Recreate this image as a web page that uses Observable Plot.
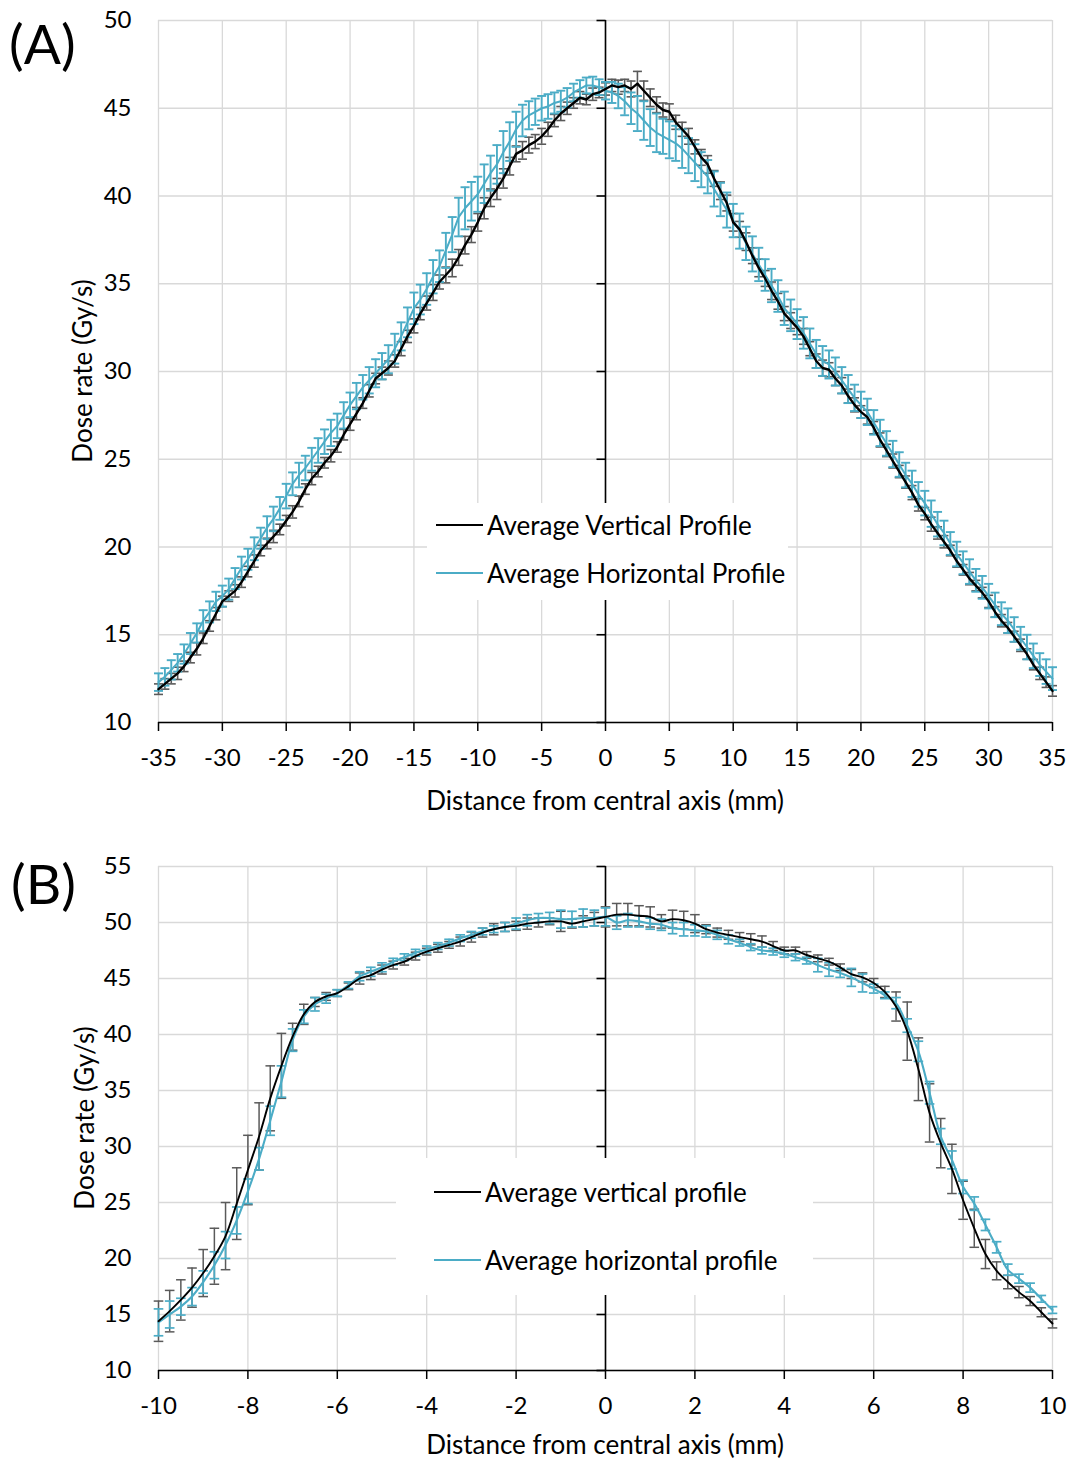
<!DOCTYPE html>
<html>
<head>
<meta charset="utf-8">
<script src="https://cdn.jsdelivr.net/npm/d3@7"></script>
<script src="https://cdn.jsdelivr.net/npm/@observablehq/plot@0.6"></script>
<style>
  body { margin: 0; background: #fff; font-family: Lato, "Open Sans", sans-serif; color: #000; }
  #fig { position: relative; width: 1071px; height: 1461px; }
  .panel { position: absolute; left: 0; width: 1071px; }
  .tag { position: absolute; font-size: 55px; line-height: 1; }
  .xtitle, .ytitle { position: absolute; white-space: nowrap; font-size: 26px; line-height: 1.1; }
  .xtitle { transform: translate(-50%, -50%); }
  .ytitle { transform: translate(-50%, -50%) rotate(-90deg); }
  .legend { position: absolute; background: #fff; }
  .key { position: absolute; display: flex; align-items: center; font-size: 26px; white-space: nowrap; line-height: 1; transform: translateY(-50%); }
  .swatch { display: inline-block; width: 47px; height: 0; border-top: 2px solid; margin-right: 4px; }
</style>
</head>
<body>
<div id="fig">
  <div class="panel" id="panelA" style="top:0"></div>
  <div class="panel" id="panelB" style="top:830px"></div>

  <div class="tag" style="left:9px; top:16px">(A)</div>
  <div class="tag" style="left:11px; top:856px">(B)</div>

  <div class="xtitle" style="left:605px; top:800px">Distance from central axis (mm)</div>
  <div class="ytitle" style="left:82px; top:371px">Dose rate (Gy/s)</div>
  <div class="xtitle" style="left:605px; top:1444px">Distance from central axis (mm)</div>
  <div class="ytitle" style="left:84px; top:1118px">Dose rate (Gy/s)</div>

  <div class="legend" style="left:427px; top:503px; width:361px; height:97px"></div>
  <div class="key" style="left:436px; top:525px"><span class="swatch" style="border-color:#000"></span>Average Vertical Profile</div>
  <div class="key" style="left:436px; top:573px"><span class="swatch" style="border-color:#4bacc6"></span>Average Horizontal Profile</div>

  <div class="legend" style="left:396px; top:1158px; width:417px; height:137px"></div>
  <div class="key" style="left:434px; top:1192px"><span class="swatch" style="border-color:#000"></span>Average vertical profile</div>
  <div class="key" style="left:434px; top:1260px"><span class="swatch" style="border-color:#4bacc6"></span>Average horizontal profile</div>
</div>

<script>
// ---- Panel A: profiles across the full field, sampled every 0.5 mm from -35 to 35 mm ----
const stepA = 0.5;
const xStartA = -35;
const vertA = [
  11.9, 12.2, 12.5, 12.8, 13.2, 13.7, 14.2, 14.8, 15.5, 16.2,
  16.9, 17.2, 17.5, 18.0, 18.6, 19.2, 19.8, 20.2, 20.6, 21.0,
  21.5, 22.0, 22.6, 23.3, 23.9, 24.3, 24.8, 25.2, 25.7, 26.4,
  27.0, 27.6, 28.2, 28.9, 29.6, 29.9, 30.2, 30.6, 31.3, 32.0,
  32.6, 33.3, 33.9, 34.5, 35.1, 35.5, 35.9, 36.5, 37.2, 37.8,
  38.5, 39.3, 39.9, 40.4, 41.0, 41.7, 42.4, 42.6, 42.9, 43.1,
  43.4, 43.8, 44.3, 44.7, 45.0, 45.3, 45.6, 45.5, 45.8, 45.9,
  46.1, 46.3, 46.2, 46.3, 46.1, 46.4, 46.0, 45.6, 45.2, 44.9,
  44.8, 44.2, 43.8, 43.4, 42.8, 42.2, 41.8, 41.0, 40.3, 39.6,
  38.5, 38.1, 37.4, 36.6, 35.9, 35.3, 34.6, 34.0, 33.3, 32.9,
  32.5, 32.0, 31.3, 30.6, 30.2, 30.1, 29.6, 29.2, 28.6, 28.1,
  27.7, 27.4, 26.8, 26.1, 25.5, 24.9, 24.3, 23.7, 23.1, 22.4,
  21.9, 21.3, 20.8, 20.3, 19.8, 19.2, 18.7, 18.2, 17.8, 17.4,
  16.9, 16.3, 15.8, 15.4, 14.9, 14.4, 13.9, 13.3, 12.8, 12.3,
  11.8
];
const horA = [
  12.3, 12.6, 13.0, 13.4, 13.9, 14.5, 15.1, 15.8, 16.3, 16.9,
  17.2, 17.6, 18.2, 18.8, 19.3, 19.9, 20.5, 21.1, 21.6, 22.2,
  22.9, 23.6, 24.1, 24.5, 25.0, 25.5, 26.0, 26.5, 26.9, 27.5,
  28.1, 28.6, 29.1, 29.5, 29.9, 30.3, 30.7, 31.3, 32.0, 32.8,
  33.6, 34.1, 34.7, 35.4, 36.0, 36.9, 37.8, 38.8, 39.3, 39.7,
  40.1, 40.7, 41.3, 41.8, 42.5, 43.1, 43.8, 44.3, 44.6, 44.8,
  45.0, 45.1, 45.3, 45.4, 45.6, 45.9, 46.1, 46.3, 46.3, 46.2,
  46.0, 45.9, 45.7, 45.4, 45.0, 44.7, 44.3, 43.9, 43.6, 43.4,
  43.2, 43.0, 42.7, 42.3, 41.9, 41.5, 41.1, 40.4, 39.8, 39.2,
  38.6, 38.0, 37.3, 36.7, 36.1, 35.5, 34.9, 34.3, 33.6, 33.2,
  32.7, 32.2, 31.6, 31.0, 30.6, 30.4, 30.0, 29.5, 29.0, 28.5,
  28.1, 27.7, 27.1, 26.5, 25.9, 25.3, 24.7, 24.1, 23.6, 23.0,
  22.5, 21.9, 21.3, 20.8, 20.2, 19.6, 19.1, 18.6, 18.1, 17.7,
  17.2, 16.7, 16.2, 15.8, 15.3, 14.8, 14.3, 13.8, 13.3, 12.9,
  12.5
];
// half-length of each error bar (Gy/s)
const errVertA = [
  0.3, 0.3, 0.3, 0.35, 0.3, 0.3, 0.35, 0.3, 0.3, 0.35,
  0.3, 0.3, 0.35, 0.3, 0.3, 0.35, 0.3, 0.3, 0.35, 0.3,
  0.3, 0.35, 0.3, 0.3, 0.35, 0.3, 0.3, 0.35, 0.3, 0.3,
  0.35, 0.35, 0.3, 0.35, 0.3, 0.35, 0.4, 0.35, 0.4, 0.35,
  0.4, 0.35, 0.4, 0.45, 0.4, 0.45, 0.5, 0.45, 0.5, 0.45,
  0.5, 0.6, 0.5, 0.6, 0.55, 0.5, 0.45, 0.5, 0.45, 0.4,
  0.45, 0.4, 0.35, 0.4, 0.35, 0.3, 0.35, 0.3, 0.35, 0.3,
  0.35, 0.35, 0.4, 0.35, 0.45, 0.7, 0.55, 0.5, 0.45, 0.4,
  0.45, 0.4, 0.4, 0.45, 0.4, 0.45, 0.5, 0.45, 0.5, 0.45,
  0.5, 0.45, 0.5, 0.45, 0.5, 0.45, 0.5, 0.45, 0.4, 0.45,
  0.4, 0.45, 0.4, 0.4, 0.45, 0.4, 0.4, 0.45, 0.4, 0.4,
  0.35, 0.4, 0.35, 0.4, 0.35, 0.4, 0.35, 0.35, 0.4, 0.35,
  0.35, 0.4, 0.35, 0.35, 0.3, 0.35, 0.3, 0.35, 0.3, 0.3,
  0.35, 0.3, 0.35, 0.3, 0.3, 0.35, 0.3, 0.3, 0.35, 0.3,
  0.3
];
const errHorA = [
  0.5, 0.5, 0.55, 0.5, 0.55, 0.6, 0.55, 0.6, 0.6, 0.55,
  0.6, 0.6, 0.6, 0.65, 0.6, 0.65, 0.6, 0.65, 0.7, 0.65,
  0.7, 0.65, 0.7, 0.7, 0.65, 0.7, 0.7, 0.75, 0.7, 0.75,
  0.7, 0.75, 0.7, 0.75, 0.8, 0.75, 0.8, 0.85, 0.8, 0.85,
  0.9, 0.85, 0.9, 0.95, 0.9, 1.0, 1.0, 1.1, 1.2, 1.1,
  1.0, 1.1, 1.0, 1.1, 1.2, 1.1, 1.0, 0.9, 0.8, 0.75,
  0.7, 0.7, 0.6, 0.6, 0.55, 0.5, 0.5, 0.45, 0.5, 0.45,
  0.5, 0.6, 0.7, 0.8, 0.9, 1.0, 1.1, 1.05, 1.1, 1.0,
  1.05, 1.0, 1.1, 1.0, 1.05, 1.0, 0.95, 1.0, 0.95, 1.0,
  0.95, 1.0, 0.95, 1.0, 0.95, 0.9, 0.95, 0.9, 0.95, 0.9,
  0.85, 0.9, 0.85, 0.8, 0.85, 0.8, 0.8, 0.75, 0.8, 0.75,
  0.75, 0.75, 0.7, 0.75, 0.7, 0.75, 0.7, 0.7, 0.75, 0.7,
  0.7, 0.75, 0.7, 0.7, 0.65, 0.7, 0.65, 0.7, 0.65, 0.65,
  0.7, 0.7, 0.65, 0.7, 0.7, 0.65, 0.7, 0.7, 0.65, 0.7,
  0.65
];
const xTicksA = [-35, -30, -25, -20, -15, -10, -5, 0, 5, 10, 15, 20, 25, 30, 35];
const yTicksA = [10, 15, 20, 25, 30, 35, 40, 45, 50];

// ---- Panel B: profiles through the central region, sampled every 0.25 mm from -10 to 10 mm ----
const stepB = 0.25;
const xStartB = -10;
const vertB = [
  14.4, 15.3, 16.3, 17.4, 18.7, 20.2, 22.0, 24.9, 27.9, 30.9,
  34.3, 37.2, 39.8, 41.8, 42.9, 43.4, 43.7, 44.3, 45.0, 45.3,
  45.8, 46.2, 46.5, 47.0, 47.4, 47.7, 48.0, 48.3, 48.7, 49.1,
  49.4, 49.6, 49.7, 49.9, 50.0, 50.1, 50.1, 49.9, 50.1, 50.3,
  50.5, 50.7, 50.7, 50.6, 50.5, 50.1, 50.3, 50.2, 49.9, 49.4,
  49.1, 48.9, 48.7, 48.5, 48.3, 47.9, 47.5, 47.5, 47.1, 46.8,
  46.5, 46.0, 45.4, 45.1, 44.6, 43.8, 42.5, 40.3, 36.9, 33.0,
  30.3, 28.0, 25.2, 22.7, 20.4, 18.9, 17.9, 17.0, 16.2, 15.2,
  14.2
];
const horB = [
  14.3, 15.0, 15.7, 16.6, 17.9, 19.4, 21.2, 23.4, 26.0, 28.9,
  32.3, 35.8, 39.5, 41.6, 42.7, 43.2, 43.7, 44.4, 45.2, 45.6,
  46.0, 46.5, 46.9, 47.3, 47.6, 47.9, 48.2, 48.6, 48.9, 49.2,
  49.4, 49.6, 49.9, 50.2, 50.4, 50.4, 50.3, 50.3, 50.4, 50.4,
  50.5, 50.0, 50.2, 50.1, 49.9, 49.8, 49.5, 49.4, 49.3, 49.2,
  48.9, 48.5, 48.2, 47.8, 47.5, 47.4, 47.2, 46.9, 46.6, 46.2,
  45.8, 45.5, 45.1, 44.6, 44.1, 43.5, 42.8, 40.8, 38.5, 34.8,
  30.9, 28.8, 26.4, 24.9, 23.0, 21.0, 19.0, 18.2, 17.4, 16.4,
  15.4
];
const errVertB = [
  1.8, 1.85, 1.8, 1.75, 2.1, 2.5, 3.0, 3.2, 3.1, 3.0,
  2.9, 2.9, 1.2, 0.9, 0.4, 0.35, 0.3, 0.3, 0.5, 0.4,
  0.4, 0.35, 0.3, 0.35, 0.3, 0.35, 0.3, 0.4, 0.45, 0.4,
  0.5, 0.4, 0.4, 0.5, 0.4, 0.3, 0.9, 0.4, 0.5, 0.6,
  0.9, 1.0, 1.0, 0.9, 0.9, 0.6, 0.8, 0.8, 0.8, 0.4,
  0.4, 0.4, 0.4, 0.5, 0.5, 0.4, 0.3, 0.3, 0.3, 0.3,
  0.3, 0.3, 0.4, 0.4, 0.4, 0.5, 1.3, 2.6, 2.8, 2.6,
  2.2, 2.2, 1.7, 1.7, 1.3, 0.8, 0.6, 0.5, 0.4, 0.4,
  0.4
];
const errHorB = [
  1.2, 1.2, 0.75, 0.8, 1.0, 1.2, 1.2, 1.2, 1.1, 1.0,
  1.3, 1.4, 1.0, 0.6, 0.6, 0.4, 0.3, 0.3, 0.4, 0.4,
  0.4, 0.3, 0.3, 0.3, 0.3, 0.3, 0.3, 0.3, 0.3, 0.3,
  0.3, 0.4, 0.5, 0.5, 0.4, 0.5, 0.8, 0.7, 0.8, 0.7,
  0.8, 0.6, 0.6, 0.5, 0.5, 0.5, 0.5, 0.6, 0.5, 0.5,
  0.4, 0.4, 0.3, 0.3, 0.3, 0.3, 0.3, 0.3, 0.3, 0.6,
  0.6, 0.4, 0.8, 0.8, 0.4, 0.3, 0.5, 0.6, 0.9, 1.0,
  0.7, 0.8, 0.6, 0.6, 0.5, 0.5, 0.5, 0.4, 0.4, 0.3,
  0.3
];
const xTicksB = [-10, -8, -6, -4, -2, 0, 2, 4, 6, 8, 10];
const yTicksB = [10, 15, 20, 25, 30, 35, 40, 45, 50, 55];

// ---- styling ----
const BLUE = "#4bacc6";
const GREY_BAR = "#5a5a5a";
const GRID = "#d9d9d9";

// horizontal cap drawn centred on the point; half-width equals r (px)
const capSymbol = {
  draw(ctx, size) { const r = Math.sqrt(size / Math.PI); ctx.moveTo(-r, 0); ctx.lineTo(r, 0); }
};
// tick pointing left from the zero axis; length equals r (px)
const leftTick = {
  draw(ctx, size) { const r = Math.sqrt(size / Math.PI); ctx.moveTo(-r, 0); ctx.lineTo(0, 0); }
};

function rows(x0, step, vert, hor, ev, eh) {
  return vert.map((v, i) => ({
    x: +(x0 + i * step).toFixed(3), v, h: hor[i], ev: ev[i], eh: eh[i]
  }));
}

function errorMarks(data, key, errKey, color, capR, width) {
  return [
    Plot.ruleX(data, { x: "x", y1: d => d[key] - d[errKey], y2: d => d[key] + d[errKey], stroke: color, strokeWidth: width }),
    Plot.dot(data, { x: "x", y: d => d[key] + d[errKey], symbol: capSymbol, r: capR, fill: "none", stroke: color, strokeWidth: width }),
    Plot.dot(data, { x: "x", y: d => d[key] - d[errKey], symbol: capSymbol, r: capR, fill: "none", stroke: color, strokeWidth: width })
  ];
}

function panel({ data, xDomain, yDomain, xTicks, yTicks, marginTop, marginBottom, height, capR, curve, blackW, blueW, greyBarW, blueBarW }) {
  return Plot.plot({
    width: 1071,
    height,
    marginLeft: 158,
    marginRight: 19,
    marginTop,
    marginBottom,
    style: { fontFamily: "Lato, 'Open Sans', sans-serif", fontSize: "24px", color: "#000", background: "#fff", overflow: "visible" },
    x: { domain: xDomain, label: null },
    y: { domain: yDomain, label: null },
    marks: [
      Plot.gridX(xTicks, { stroke: GRID, strokeOpacity: 1, strokeWidth: 1.3 }),
      Plot.gridY(yTicks, { stroke: GRID, strokeOpacity: 1, strokeWidth: 1.3 }),
      Plot.axisX({ ticks: xTicks, tickSize: 9, tickPadding: 17, tickFormat: d => String(d), fontSize: 24, label: null, strokeWidth: 1.5 }),
      Plot.axisY({ ticks: yTicks, tickSize: 0, tickPadding: 27, tickFormat: d => String(d), fontSize: 24, label: null }),
      Plot.ruleY([yDomain[0]], { stroke: "#000", strokeWidth: 1.6 }),
      Plot.ruleX([0], { stroke: "#000", strokeWidth: 1.6 }),
      Plot.dot(yTicks, { x: () => 0, y: d => d, symbol: leftTick, r: 9, fill: "none", stroke: "#000", strokeWidth: 1.6 }),
      ...errorMarks(data, "v", "ev", GREY_BAR, capR, greyBarW),
      ...errorMarks(data, "h", "eh", BLUE, capR, blueBarW),
      Plot.line(data, { x: "x", y: "h", stroke: BLUE, strokeWidth: blueW, curve }),
      Plot.line(data, { x: "x", y: "v", stroke: "#000", strokeWidth: blackW, curve })
    ]
  });
}

document.getElementById("panelA").append(panel({
  data: rows(xStartA, stepA, vertA, horA, errVertA, errHorA),
  xDomain: [-35, 35], yDomain: [10, 50], xTicks: xTicksA, yTicks: yTicksA,
  marginTop: 20, marginBottom: 108, height: 830, capR: 4.5,
  curve: "linear", blackW: 2.4, blueW: 2, greyBarW: 1.6, blueBarW: 1.9
}));

document.getElementById("panelB").append(panel({
  data: rows(xStartB, stepB, vertB, horB, errVertB, errHorB),
  xDomain: [-10, 10], yDomain: [10, 55], xTicks: xTicksB, yTicks: yTicksB,
  marginTop: 36, marginBottom: 91, height: 631, capR: 4.8,
  curve: "catmull-rom", blackW: 1.9, blueW: 2.1, greyBarW: 1.5, blueBarW: 1.7
}));
</script>
</body>
</html>
